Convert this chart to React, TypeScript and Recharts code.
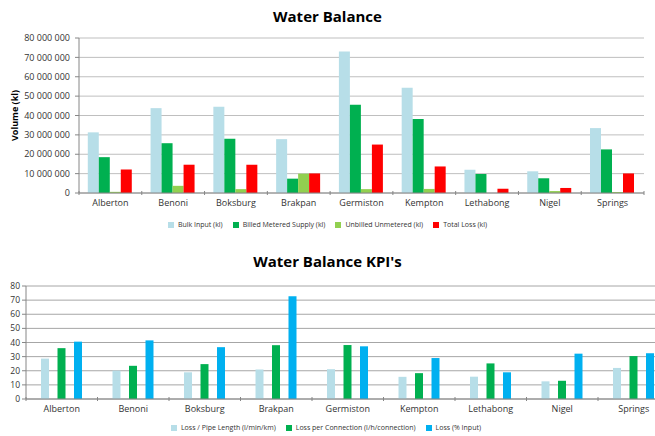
import React from 'react';
import { BarChart, Bar, XAxis, YAxis, CartesianGrid, Legend } from 'recharts';

// Water balance per town (kl)
const towns = ['Alberton', 'Benoni', 'Boksburg', 'Brakpan', 'Germiston', 'Kempton', 'Lethabong', 'Nigel', 'Springs'];
const bulkInput = [31300000, 43800000, 44500000, 27800000, 73000000, 54300000, 12000000, 11200000, 33500000];
const billedMetered = [18500000, 25700000, 28000000, 7400000, 45600000, 38200000, 9800000, 7600000, 22500000];
const unbilledUnmetered = [600000, 3700000, 2000000, 10000000, 2000000, 2100000, 0, 1000000, 500000];
const totalLoss = [12100000, 14600000, 14600000, 10100000, 25000000, 13700000, 2200000, 2600000, 10100000];
const volumeTicks = [0, 10000000, 20000000, 30000000, 40000000, 50000000, 60000000, 70000000, 80000000];

// KPIs
const lossPerPipeLength = [28.6, 20.1, 18.9, 20.9, 21.1, 15.7, 15.8, 12.5, 22.0];
const lossPerConnection = [36.0, 23.5, 24.7, 38.1, 38.2, 18.3, 25.2, 12.9, 30.4];
const lossPctInput = [40.6, 41.5, 36.7, 72.7, 37.3, 29.0, 18.9, 32.1, 32.4];
const kpiTicks = [0, 10, 20, 30, 40, 50, 60, 70, 80];

const balanceData = towns.map((town, i) => ({
  town,
  bulk: bulkInput[i],
  billed: billedMetered[i],
  unbilled: unbilledUnmetered[i],
  loss: totalLoss[i],
}));

const kpiData = towns.map((town, i) => ({
  town,
  pipe: lossPerPipeLength[i],
  conn: lossPerConnection[i],
  pct: lossPctInput[i],
}));

const FONT = '"Open Sans", sans-serif';
const AXIS = '#868686';
const TEXT = '#333333';

const spaced = (n: number) => String(n).replace(/\B(?=(\d{3})+(?!\d))/g, ' ');

// x tick: label at category centre, small tick marks at category boundaries
function makeTownTick(band: number, axisY: number, count: number) {
  return function TownTick(props: any) {
    const { x, y, payload, index } = props;
    const left = x - band / 2;
    return (
      <g>
        <line x1={left} x2={left} y1={axisY} y2={axisY + 4} stroke={AXIS} />
        {index === count - 1 && (
          <line x1={left + band} x2={left + band} y1={axisY} y2={axisY + 4} stroke={AXIS} />
        )}
        <text x={x} y={y} dy={9} textAnchor="middle" fontSize={9} fill={TEXT} fontFamily={FONT}>
          {payload.value}
        </text>
      </g>
    );
  };
}

const legendText = (value: string) => <span style={{ color: TEXT }}>{value}</span>;

const titleStyle: React.CSSProperties = {
  position: 'absolute',
  left: 0,
  width: 655,
  textAlign: 'center',
  fontFamily: FONT,
  fontWeight: 700,
  fontSize: 15,
  color: '#000',
};

export default function App() {
  const topBand = (644 - 79) / towns.length;
  const bottomBand = (669.5 - 26) / towns.length;

  return (
    <div style={{ position: 'absolute', left: 0, top: 0, width: 655, height: 436, overflow: 'hidden', background: '#fff' }}>
      <div style={{ ...titleStyle, top: 6 }}>Water Balance</div>
      <div style={{ position: 'absolute', left: 0, top: 0 }}>
        <BarChart
          width={655}
          height={240}
          data={balanceData}
          margin={{ top: 38, right: 11, left: 0, bottom: 14 }}
          barCategoryGap="14%"
          barGap={0}
        >
          <CartesianGrid vertical={false} stroke="#bfbfbf" />
          <XAxis
            dataKey="town"
            stroke={AXIS}
            tickLine={false}
            tickSize={0}
            tickMargin={4}
            height={24}
            interval={0}
            tick={makeTownTick(topBand, 191, towns.length)}
          />
          <YAxis
            width={79}
            domain={[0, 80000000]}
            ticks={volumeTicks}
            interval={0}
            tickFormatter={spaced}
            stroke={AXIS}
            tickSize={4}
            tickMargin={5}
            tick={{ fontSize: 9, fill: TEXT, fontFamily: FONT }}
            label={{
              value: 'Volume (kl)',
              angle: -90,
              position: 'insideLeft',
              offset: 15,
              textAnchor: 'middle',
              style: { fontSize: 9, fontWeight: 700, fill: '#000', fontFamily: FONT },
            }}
          />
          <Legend
            verticalAlign="bottom"
            iconType="square"
            iconSize={6}
            itemSorter={null as any}
            formatter={legendText}
            wrapperStyle={{ fontSize: 7, fontFamily: FONT, left: 0, width: 665, bottom: 11 }}
          />
          <Bar dataKey="bulk" name="Bulk Input (kl)" fill="#b7dee8" isAnimationActive={false} />
          <Bar dataKey="billed" name="Billed Metered Supply (kl)" fill="#00b050" isAnimationActive={false} />
          <Bar dataKey="unbilled" name="Unbilled Unmetered (kl)" fill="#92d050" isAnimationActive={false} />
          <Bar dataKey="loss" name="Total Loss (kl)" fill="#ff0000" isAnimationActive={false} />
        </BarChart>
      </div>

      <div style={{ ...titleStyle, top: 251 }}>Water Balance KPI's</div>
      <div style={{ position: 'absolute', left: 0, top: 245 }}>
        <BarChart
          width={680}
          height={191}
          data={kpiData}
          margin={{ top: 41, right: 10.5, left: 0, bottom: 4 }}
          barCategoryGap={15}
          barGap={8.5}
        >
          <CartesianGrid vertical={false} stroke="#a6a6a6" />
          <XAxis
            dataKey="town"
            stroke={AXIS}
            tickLine={false}
            tickSize={0}
            tickMargin={4}
            height={24}
            interval={0}
            tick={makeTownTick(bottomBand, 152, towns.length)}
          />
          <YAxis
            width={26}
            domain={[0, 80]}
            ticks={kpiTicks}
            interval={0}
            stroke={AXIS}
            tickSize={4}
            tickMargin={2}
            tick={{ fontSize: 8.5, fill: TEXT, fontFamily: FONT }}
          />
          <Legend
            verticalAlign="bottom"
            iconType="square"
            iconSize={6}
            itemSorter={null as any}
            formatter={legendText}
            wrapperStyle={{ fontSize: 7, fontFamily: FONT, left: 0, width: 662 }}
          />
          <Bar dataKey="pipe" name="Loss / Pipe Length (l/min/km)" fill="#b7dee8" isAnimationActive={false} />
          <Bar dataKey="conn" name="Loss per Connection (l/h/connection)" fill="#00b050" isAnimationActive={false} />
          <Bar dataKey="pct" name="Loss (% Input)" fill="#00b0f0" isAnimationActive={false} />
        </BarChart>
      </div>
    </div>
  );
}
